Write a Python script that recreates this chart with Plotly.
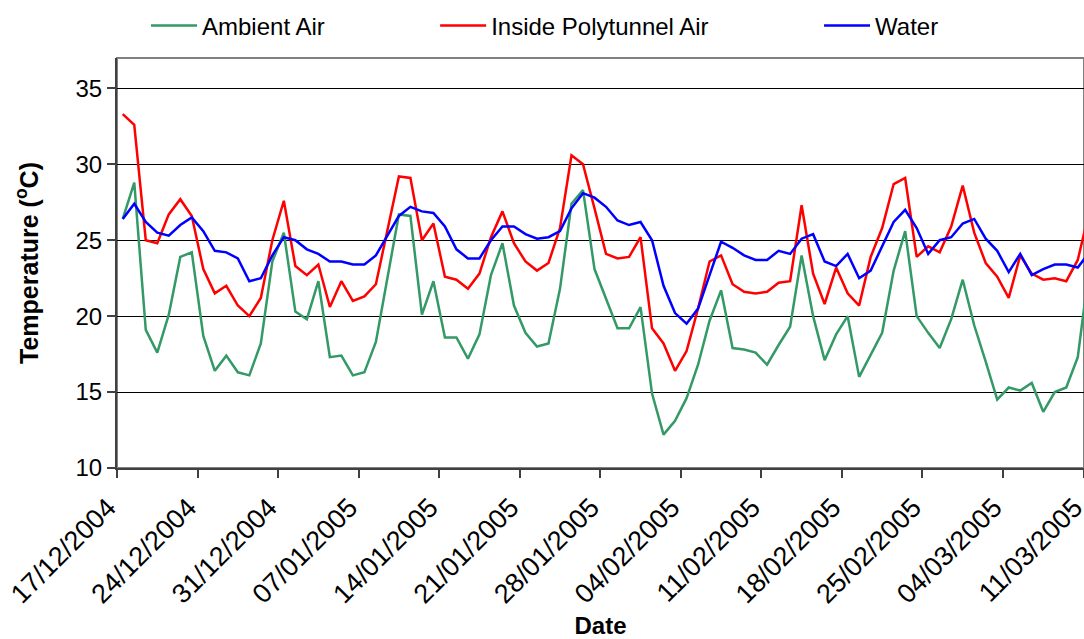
import pandas as pd
import plotly.graph_objects as go

# Daily mean temperatures (°C), one value per day starting 17/12/2004
start_date = "2004-12-17"

ambient_air = [
    26.4, 28.8, 19.1, 17.6, 20.1, 23.9, 24.2, 18.7, 16.4, 17.4,
    16.3, 16.1, 18.2, 23.6, 25.5, 20.3, 19.8, 22.3, 17.3, 17.4,
    16.1, 16.3, 18.3, 22.4, 26.7, 26.6, 20.1, 22.3, 18.6, 18.6,
    17.2, 18.8, 22.7, 24.8, 20.7, 18.9, 18.0, 18.2, 21.8, 27.4,
    28.3, 23.1, 21.2, 19.2, 19.2, 20.6, 14.9, 12.2, 13.1, 14.6,
    16.8, 19.7, 21.7, 17.9, 17.8, 17.6, 16.8, 18.1, 19.3, 24.0,
    20.0, 17.1, 18.8, 20.0, 16.0, 17.5, 18.9, 23.0, 25.6, 20.0,
    18.9, 17.9, 19.8, 22.4, 19.4, 17.0, 14.5, 15.3, 15.1, 15.6,
    13.7, 15.0, 15.3, 17.3, 23.2,
]

inside_polytunnel_air = [
    33.3, 32.6, 25.0, 24.8, 26.7, 27.7, 26.6, 23.1, 21.5, 22.0,
    20.7, 20.0, 21.2, 25.0, 27.6, 23.3, 22.7, 23.4, 20.6, 22.3,
    21.0, 21.3, 22.1, 25.6, 29.2, 29.1, 25.0, 26.1, 22.6, 22.4,
    21.8, 22.8, 25.2, 26.9, 24.8, 23.6, 23.0, 23.5, 25.8, 30.6,
    30.0, 27.1, 24.1, 23.8, 23.9, 25.2, 19.2, 18.2, 16.4, 17.7,
    20.5, 23.6, 24.0, 22.1, 21.6, 21.5, 21.6, 22.2, 22.3, 27.3,
    22.8, 20.8, 23.2, 21.5, 20.7, 23.9, 25.8, 28.7, 29.1, 23.9,
    24.6, 24.2, 25.9, 28.6, 25.5, 23.5, 22.6, 21.2, 24.0, 22.8,
    22.4, 22.5, 22.3, 23.7, 26.9,
]

water = [
    26.4, 27.4, 26.2, 25.5, 25.3, 26.0, 26.5, 25.6, 24.3, 24.2,
    23.8, 22.3, 22.5, 24.0, 25.2, 25.0, 24.4, 24.1, 23.6, 23.6,
    23.4, 23.4, 24.0, 25.3, 26.6, 27.2, 26.9, 26.8, 25.9, 24.4,
    23.8, 23.8, 25.0, 25.9, 25.9, 25.4, 25.1, 25.2, 25.6, 27.1,
    28.1, 27.8, 27.2, 26.3, 26.0, 26.2, 25.0, 22.0, 20.2, 19.5,
    20.5, 22.7, 24.9, 24.5, 24.0, 23.7, 23.7, 24.3, 24.1, 25.1,
    25.4, 23.6, 23.3, 24.1, 22.5, 23.0, 24.6, 26.2, 27.0, 25.8,
    24.1, 25.0, 25.2, 26.1, 26.4, 25.1, 24.3, 22.9, 24.1, 22.7,
    23.1, 23.4, 23.4, 23.2, 24.2,
]

series_names = ["Ambient Air", "Inside Polytunnel Air", "Water"]
series_colors = ["#339966", "#FF0000", "#0000FF"]

dates = pd.date_range(start_date, periods=len(ambient_air), freq="D")
# each day's value sits in the middle of its day slot
x_vals = dates + pd.Timedelta(hours=12)

FONT = "Arial, Liberation Sans, sans-serif"

fig = go.Figure()
legend_ids = ["legend", "legend2", "legend3"]
for name, vals, color, lg in zip(series_names,
                                 [ambient_air, inside_polytunnel_air, water],
                                 series_colors, legend_ids):
    fig.add_trace(go.Scatter(
        x=x_vals, y=vals, mode="lines", name=name,
        line=dict(color=color, width=2.5),
        legend=lg, showlegend=True,
    ))

legend_common = dict(
    orientation="h", yanchor="middle", y=1.078, xanchor="left",
    font=dict(family=FONT, size=24, color="black"),
    bgcolor="rgba(0,0,0,0)", itemwidth=46,
)

fig.update_layout(
    width=1084, height=639,
    margin=dict(l=117, r=0, t=58, b=171),
    paper_bgcolor="white", plot_bgcolor="white",
    font=dict(family=FONT, size=24, color="black"),
    showlegend=True,
    legend=dict(x=0.030, **legend_common),
    legend2=dict(x=0.329, **legend_common),
    legend3=dict(x=0.726, **legend_common),
    xaxis=dict(
        type="date",
        range=["2004-12-17", "2005-03-11 01:00"],
        tick0="2004-12-17", dtick=7 * 86400000,
        tickformat="%d/%m/%Y", tickangle=-45,
        ticks="outside", ticklen=8, tickcolor="#404040", tickwidth=1.5,
        showline=True, linecolor="#404040", linewidth=2,
        showgrid=False, zeroline=False,
        tickfont=dict(family=FONT, size=27, color="black"),
        ticklabeloverflow="allow",
        ticklabelstandoff=3, ticklabelshift=-9,
        title=dict(text="<b>Date</b>", standoff=11,
                   font=dict(family=FONT, size=24, color="black")),
        automargin=False,
    ),
    yaxis=dict(
        range=[10, 37], tick0=10, dtick=5,
        ticks="outside", ticklen=8, tickcolor="#404040", tickwidth=1.5,
        showline=True, linecolor="#404040", linewidth=2,
        showgrid=True, gridcolor="black", gridwidth=1,
        zeroline=False,
        tickfont=dict(family=FONT, size=24, color="black"),
        title=dict(text="<b>Temperature (<sup>o</sup>C)</b>", standoff=30,
                   font=dict(family=FONT, size=25, color="black")),
        automargin=False,
    ),
    shapes=[dict(type="rect", xref="paper", yref="paper", x0=0, x1=1, y0=0, y1=1,
                 line=dict(color="#808080", width=2), layer="below")],
)

fig.write_html("out.html")
